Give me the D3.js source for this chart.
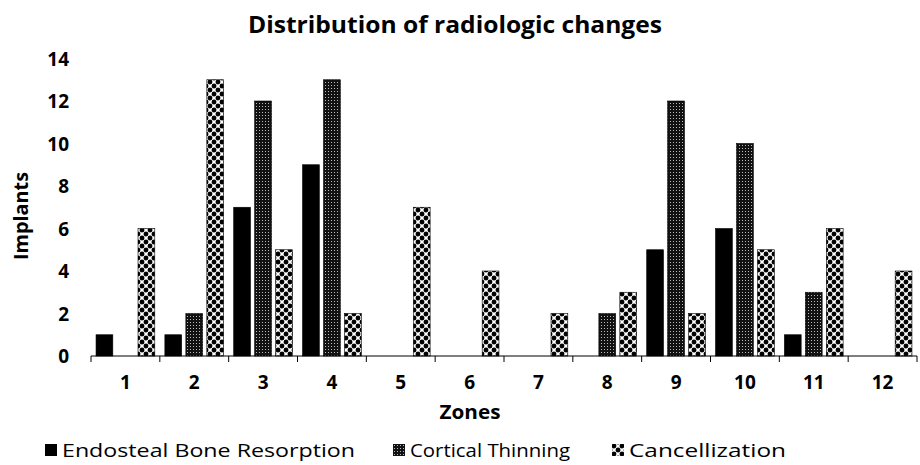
<!DOCTYPE html>
<html>
<head>
<meta charset="utf-8">
<script src="https://cdn.jsdelivr.net/npm/d3@7"></script>
<style>
  body { margin: 0; background: #fff; }
  text { font-family: "Open Sans", "Noto Sans", sans-serif; fill: #000; }
</style>
</head>
<body>
<svg></svg>
<script>
const width = 920;
const height = 465;

const zones = ['1', '2', '3', '4', '5', '6', '7', '8', '9', '10', '11', '12'];
const seriesNames = ['Endosteal Bone Resorption', 'Cortical Thinning', 'Cancellization'];
const endosteal = [1, 1, 7, 9, 0, 0, 0, 0, 5, 6, 1, 0];
const cortical = [0, 2, 12, 13, 0, 0, 0, 2, 12, 10, 3, 0];
const cancellization = [6, 13, 5, 2, 7, 4, 2, 3, 2, 5, 6, 4];
const yTicks = [0, 2, 4, 6, 8, 10, 12, 14];

const seriesValues = [endosteal, cortical, cancellization];
const fills = ['#000', 'url(#cortical)', 'url(#cancel)'];

const svg = d3.select('svg').attr('width', width).attr('height', height);

// patterns
const defs = svg.append('defs');
const pc = defs.append('pattern').attr('id', 'cortical')
    .attr('patternUnits', 'userSpaceOnUse').attr('width', 3).attr('height', 3);
pc.append('rect').attr('width', 3).attr('height', 3).attr('fill', '#111');
pc.append('rect').attr('x', 1).attr('y', 1).attr('width', 1).attr('height', 1).attr('fill', '#bbb');

const pk = defs.append('pattern').attr('id', 'cancel')
    .attr('patternUnits', 'userSpaceOnUse').attr('width', 8).attr('height', 8);
pk.append('rect').attr('width', 8).attr('height', 8).attr('fill', '#fff');
[[2, 2], [6, 6], [6, -2], [-2, 6], [10, 6], [6, 10], [2, 10], [10, 2], [-2, 2], [2, -2]].forEach(c => {
  pk.append('circle').attr('cx', c[0]).attr('cy', c[1]).attr('r', 2.4).attr('fill', '#000');
});

const x = d3.scaleBand().domain(zones).range([91, 917]);
const y = d3.scaleLinear().domain([0, 14]).range([356, 58.5]);
const xs = d3.scaleBand().domain(d3.range(3)).range([0, x.bandwidth()]).paddingInner(0.2).paddingOuter(0.24);

const g = svg.append('g');
seriesValues.forEach((vals, si) => {
  g.selectAll('.bar' + si)
    .data(vals)
    .enter().append('rect')
    .attr('class', 'bar' + si)
    .attr('x', (d, i) => x(zones[i]) + xs(si))
    .attr('y', d => y(d))
    .attr('width', xs.bandwidth())
    .attr('height', d => y(0) - y(d))
    .attr('fill', fills[si])
    .attr('stroke', d => d > 0 ? '#000' : 'none')
    .attr('stroke-width', 0.6);
});

// x axis
const xAxis = svg.append('g').attr('transform', 'translate(0,' + y(0) + ')');
xAxis.append('line').attr('x1', 91).attr('x2', 917).attr('stroke', '#000').attr('stroke-width', 1);
xAxis.selectAll('.tk').data(d3.range(13)).enter().append('line')
    .attr('x1', i => 91 + i * x.step()).attr('x2', i => 91 + i * x.step())
    .attr('y1', 0).attr('y2', 6).attr('stroke', '#000');
xAxis.selectAll('.lbl').data(zones).enter().append('text')
    .attr('x', d => x(d) + x.bandwidth() / 2)
    .attr('y', 33)
    .attr('text-anchor', 'middle')
    .style('font-size', '19px').style('font-weight', 'bold')
    .text(d => d);

// y labels
svg.selectAll('.ylbl').data(yTicks).enter().append('text')
    .attr('x', 69).attr('y', d => y(d) + 7)
    .attr('text-anchor', 'end')
    .style('font-size', '19px').style('font-weight', 'bold')
    .text(d => d);

svg.append('text').attr('x', 455).attr('y', 33).attr('text-anchor', 'middle')
    .style('font-size', '24px').style('font-weight', 'bold')
    .attr('textLength', 414).attr('lengthAdjust', 'spacingAndGlyphs')
    .text('Distribution of radiologic changes');

svg.append('text').attr('transform', 'translate(28,216) rotate(-90)')
    .attr('text-anchor', 'middle')
    .style('font-size', '20px').style('font-weight', 'bold')
    .attr('textLength', 88).attr('lengthAdjust', 'spacingAndGlyphs')
    .text('Implants');

svg.append('text').attr('x', 470).attr('y', 419).attr('text-anchor', 'middle')
    .style('font-size', '20px').style('font-weight', 'bold')
    .attr('textLength', 61).attr('lengthAdjust', 'spacingAndGlyphs')
    .text('Zones');

// legend
const legendX = [45, 393, 612];
const legendW = [293, 160, 157];
const legend = svg.selectAll('.leg').data(seriesNames).enter().append('g')
    .attr('transform', (d, i) => 'translate(' + legendX[i] + ',444)');
legend.append('rect').attr('width', 12).attr('height', 12)
    .attr('fill', (d, i) => fills[i]);
legend.append('text').attr('x', 17).attr('y', 13)
    .style('font-size', '18px')
    .attr('textLength', (d, i) => legendW[i])
    .attr('lengthAdjust', 'spacingAndGlyphs')
    .text(d => d);
</script>
</body>
</html>
